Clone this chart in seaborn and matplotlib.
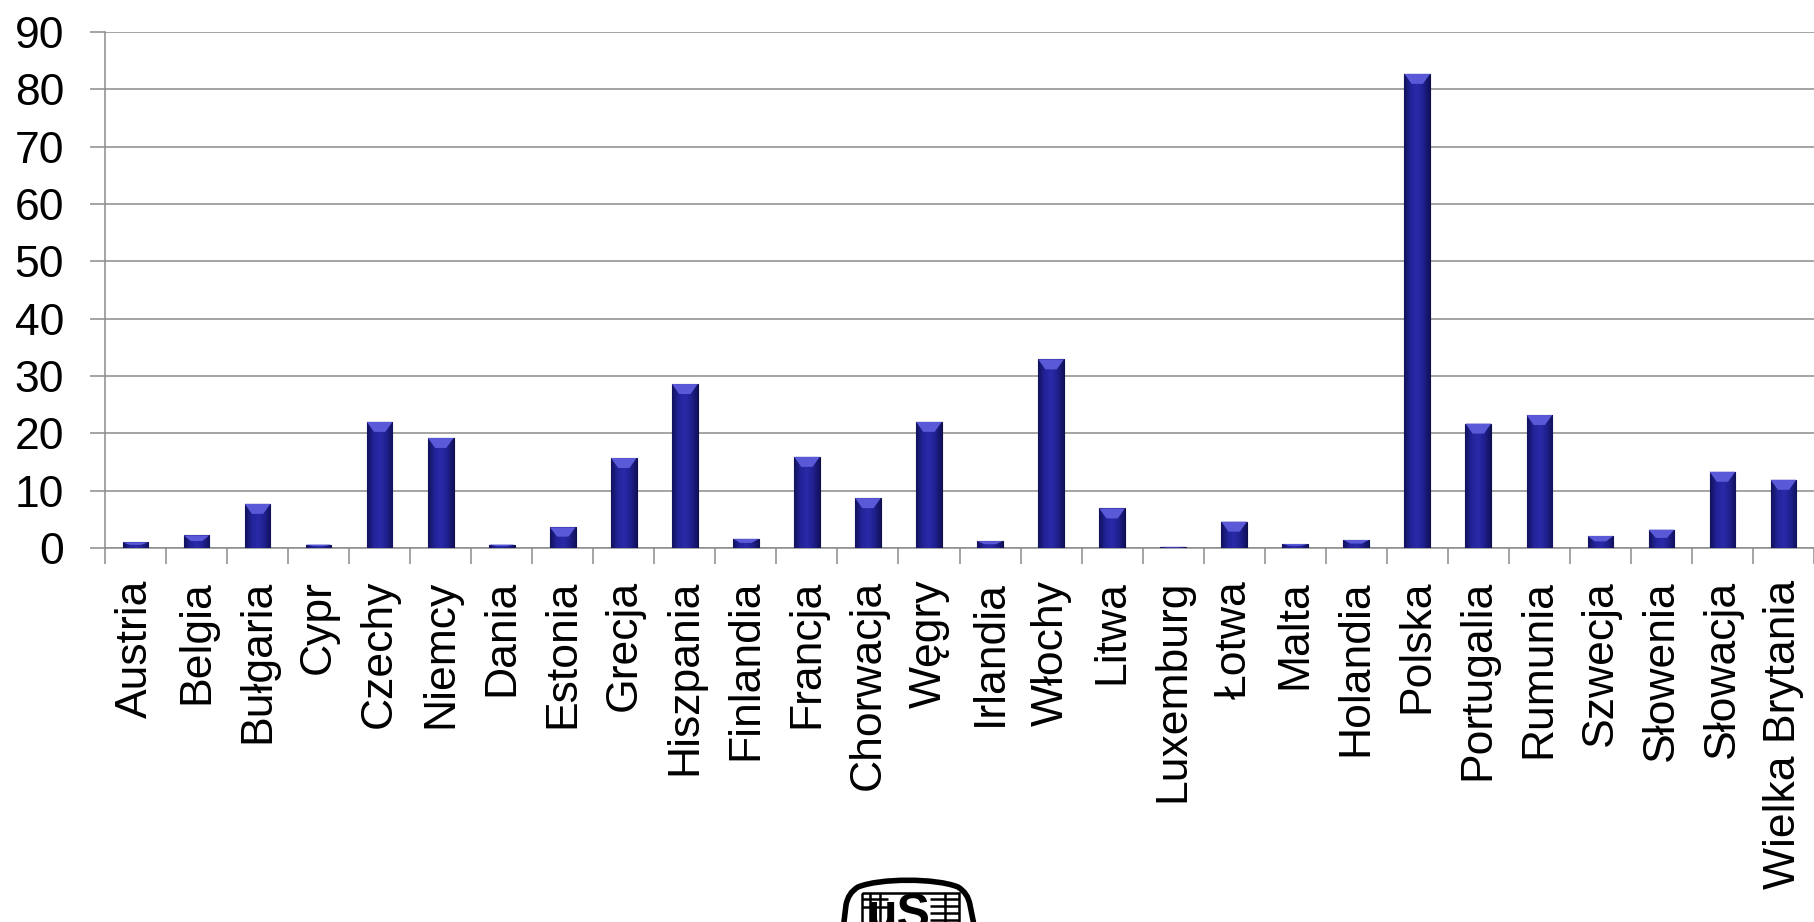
import numpy as np
import pandas as pd
import seaborn as sns
import matplotlib.pyplot as plt
from matplotlib.colors import LinearSegmentedColormap
from matplotlib.patches import Polygon, PathPatch, Rectangle
from matplotlib.path import Path
from matplotlib.transforms import Affine2D

countries = [
    "Austria", "Belgia", "Bułgaria", "Cypr", "Czechy", "Niemcy", "Dania",
    "Estonia", "Grecja", "Hiszpania", "Finlandia", "Francja", "Chorwacja",
    "Węgry", "Irlandia", "Włochy", "Litwa", "Luxemburg", "Łotwa", "Malta",
    "Holandia", "Polska", "Portugalia", "Rumunia", "Szwecja", "Słowenia",
    "Słowacja", "Wielka Brytania",
]
values = [
    1.0, 2.2, 7.7, 0.6, 22.0, 19.2, 0.6, 3.6, 15.7, 28.6, 1.6, 15.9, 8.7,
    22.0, 1.2, 32.9, 6.9, 0.2, 4.6, 0.7, 1.4, 82.7, 21.7, 23.2, 2.1, 3.2,
    13.3, 11.9,
]
y_ticks = [0, 10, 20, 30, 40, 50, 60, 70, 80, 90]

sns.set_theme(style="white")
plt.rcParams["font.family"] = ["Liberation Sans", "DejaVu Sans"]

df = pd.DataFrame({"kraj": countries, "wartosc": values})

W, H = 1814, 922
fig = plt.figure(figsize=(W / 100, H / 100), dpi=100)
ax = fig.add_axes([105 / W, 1 - 548 / H, 1 - 105 / W, (548 - 32) / H])

sns.barplot(data=df, x="kraj", y="wartosc", color="#1e1e8c", width=0.42,
            saturation=1, ax=ax, zorder=3)

grey = "#8c8c8c"
ax.set_ylim(0, 90)
ax.set_xlim(-0.5, len(countries) - 0.5)
ax.set_yticks(y_ticks)
ax.yaxis.grid(True, color=grey, linewidth=1.1, zorder=0)
ax.xaxis.grid(False)
for side in ["top", "right"]:
    ax.spines[side].set_visible(False)
for side in ["left", "bottom"]:
    ax.spines[side].set_color(grey)
    ax.spines[side].set_linewidth(1.1)

ax.set_xlabel("")
ax.set_ylabel("")
ax.set_xticks(np.arange(len(countries)))
ax.set_xticklabels(countries, rotation=90, va="top", ha="center")
ax.set_xticks(np.arange(len(countries) + 1) - 0.5, minor=True)
ax.tick_params(axis="x", which="major", length=0, pad=23, labelsize=32,
               labelcolor="black")
ax.tick_params(axis="x", which="minor", bottom=True, length=11.5, width=1.1,
               color=grey)
ax.tick_params(axis="y", left=True, length=11, width=1.1, color=grey,
               pad=18.5, labelsize=32, labelcolor="black")

# cylinder-like shading and top bevel on every bar
cmap = LinearSegmentedColormap.from_list(
    "bar", ["#12125c", "#222298", "#2a2aaa", "#20208f", "#12125c"])
grad = np.linspace(0, 1, 64).reshape(1, -1)
for patch in ax.patches:
    x, w, h = patch.get_x(), patch.get_width(), patch.get_height()
    patch.set_edgecolor("#0e0e4a")
    patch.set_linewidth(0.8)
    im = ax.imshow(grad, extent=[x, x + w, 0, h], aspect="auto", cmap=cmap,
                   zorder=3.5)
    im.set_clip_path(patch)
    d = min(10 * 10 / 57.3, h * 0.45)
    bevel = Polygon([[x, h], [x + w, h], [x + 0.72 * w, h - d],
                     [x + 0.28 * w, h - d]], closed=True,
                    facecolor="#5a5ad8", edgecolor="none", zorder=4)
    ax.add_patch(bevel)
ax.set_xlim(-0.5, len(countries) - 0.5)
ax.set_ylim(0, 90)

# logo fragment at the bottom (pixel coordinates, origin top-left)
pix = Affine2D().scale(1 / W, -1 / H).translate(0, 1) + fig.transFigure
outline = Path(
    [(843, 930), (846, 905), (848, 893), (858, 887), (880, 878), (936, 878),
     (958, 887), (968, 893), (970, 905), (975, 930)],
    [Path.MOVETO, Path.LINETO, Path.CURVE3, Path.CURVE3, Path.CURVE4,
     Path.CURVE4, Path.CURVE4, Path.CURVE3, Path.CURVE3, Path.LINETO])
fig.add_artist(PathPatch(outline, transform=pix, facecolor="white",
                         edgecolor="black", linewidth=4))
fig.add_artist(Rectangle((862, 893), 97, 40, transform=pix, facecolor="none",
                         edgecolor="black", linewidth=1.8))
for yy in [899, 907]:
    fig.add_artist(Path and PathPatch(Path([(862, yy), (888, yy)]),
                                      transform=pix, edgecolor="black",
                                      linewidth=1.8))
for yy in [899, 906, 913, 920]:
    fig.add_artist(PathPatch(Path([(930, yy), (959, yy)]), transform=pix,
                             edgecolor="black", linewidth=1.8))
for xx in [870, 880]:
    fig.add_artist(PathPatch(Path([(xx, 893), (xx, 922)]), transform=pix,
                             edgecolor="black", linewidth=1.8))
fig.add_artist(PathPatch(Path([(945, 893), (945, 922)]), transform=pix,
                         edgecolor="black", linewidth=1.8))
fig.text(899 / W, 1 - 893 / H, "uS", ha="center", va="top", fontsize=36,
         fontweight="bold", color="black")

fig.savefig("out.png", dpi=100)
